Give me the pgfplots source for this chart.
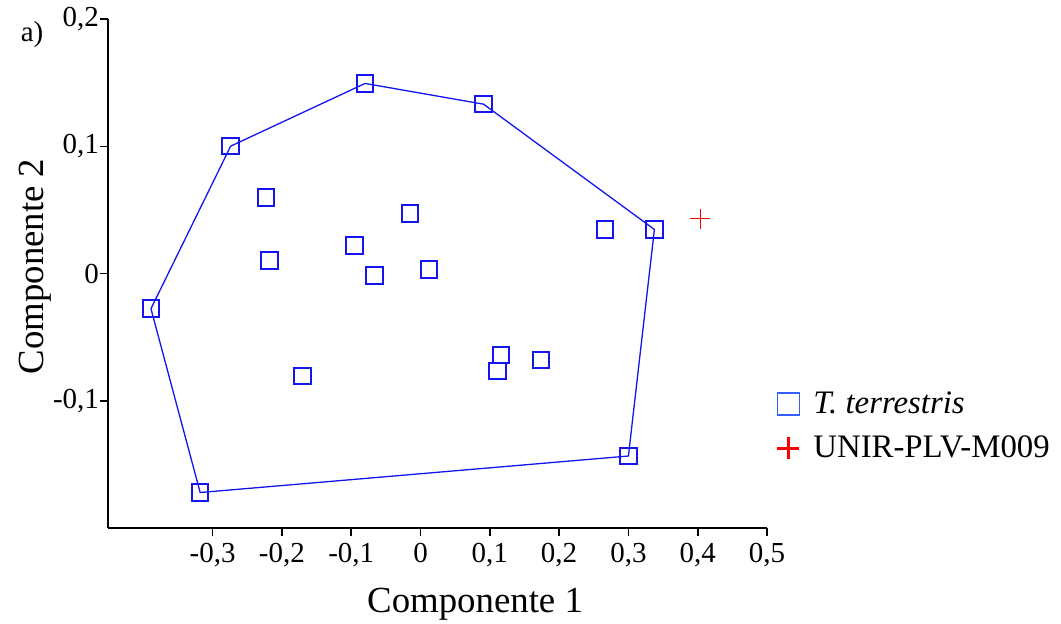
\documentclass[border=0pt]{standalone}
\usepackage{fontspec}
\setmainfont{Liberation Serif}
\usepackage{pgfplots}
\pgfplotsset{compat=1.18}

\definecolor{hullblue}{RGB}{20,20,240}
\definecolor{legblue}{RGB}{55,95,255}

\begin{document}
\begin{tikzpicture}
\begin{axis}[
    at={(0,0)}, anchor=south west,
    scale only axis,
    width=329.5pt, height=254.4pt,
    xmin=-0.451, xmax=0.5,
    ymin=-0.2, ymax=0.2,
    axis x line=bottom, axis y line=left,
    axis line style={-, line width=0.85pt},
    xtick={-0.3,-0.2,-0.1,0,0.1,0.2,0.3,0.4,0.5},
    ytick={-0.1,0,0.1,0.2},
    tick align=outside,
    major tick length=4pt,
    tick style={black, line width=0.85pt},
    /pgf/number format/assume math mode=true,
    /pgf/number format/use comma,
    /pgf/number format/fixed,
    /pgf/number format/precision=1,
    tick label style={font=\fontsize{14.5pt}{17pt}\selectfont},
    yticklabel style={xshift=3pt},
    xlabel={Componente 1},
    ylabel={Componente 2},
    label style={font=\fontsize{18.4pt}{22pt}\selectfont},
    xlabel style={at={(axis description cs:0.557,-0.149)}, anchor=center},
    ylabel style={at={(axis description cs:-0.111,0.514)}, anchor=center},
    legend style={at={(axis description cs:1.0,0.284)}, anchor=north west,
        xshift=2pt,
        draw=none, fill=none, font=\fontsize{16.4pt}{19pt}\selectfont,
        row sep=5.5pt, column sep=5pt},
    legend cell align=left,
    clip=false,
]

% convex hull
\addplot[hullblue, line width=0.65pt, forget plot] coordinates {
    (-0.389,-0.0276) (-0.274,0.1002) (-0.080,0.1495) (0.091,0.1332)
    (0.3375,0.0347) (0.300,-0.1434) (-0.318,-0.1721) (-0.389,-0.0276)
};

\addplot[only marks, mark=square, mark size=4.15pt, color=hullblue,
    mark options={draw=hullblue, line width=1pt},
    legend image post style={mark size=5.5pt, color=legblue,
        mark options={draw=legblue, line width=0.8pt}}]
table {
    x       y
    -0.080  0.1495
    0.091   0.1332
    -0.274  0.1002
    -0.223  0.0599
    -0.015  0.0471
    -0.218  0.0101
    -0.095  0.0220
    -0.066  -0.0013
    0.012   0.0034
    0.266   0.0347
    0.3375  0.0347
    -0.389  -0.0276
    -0.170  -0.0805
    0.116   -0.0641
    0.111   -0.0767
    0.174   -0.0679
    0.300   -0.1434
    -0.318  -0.1721
};
\addlegendentry{\textit{T. terrestris}}

\addplot[only marks, mark=+, mark size=5pt, color=red,
    mark options={draw=red, line width=0.5pt},
    legend image post style={mark size=5.5pt, mark options={draw=red, line width=1.5pt}}]
coordinates {(0.404,0.0432)};
\addlegendentry{UNIR-PLV-M009}

\node[font=\fontsize{14.5pt}{17pt}\selectfont, anchor=center]
    at (axis description cs:-0.1153,0.969) {a)};
\end{axis}
\pgfresetboundingbox
\path[use as bounding box] (-54pt,-47.5pt) rectangle (476.5pt,264pt);
\end{tikzpicture}
\end{document}
